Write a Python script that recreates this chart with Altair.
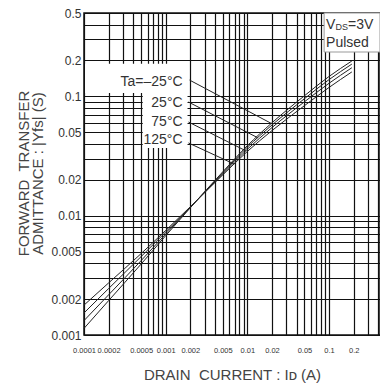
import altair as alt
import pandas as pd

# ---- data ----
drain_current = [0.0001, 0.0002, 0.0005, 0.001, 0.002, 0.005, 0.01, 0.02, 0.05, 0.1, 0.19]
yfs_m25 = [0.001136, 0.00194, 0.00393, 0.0068, 0.01164, 0.02335, 0.03864, 0.0601, 0.1013, 0.147, 0.198]
yfs_25 = [0.00132, 0.00217, 0.0042, 0.00702, 0.01176, 0.0229, 0.03754, 0.05756, 0.09574, 0.1383, 0.1865]
yfs_75 = [0.00153, 0.00245, 0.00454, 0.0073, 0.01176, 0.02244, 0.03606, 0.05476, 0.09016, 0.1289, 0.1739]
yfs_125 = [0.00178, 0.00273, 0.00481, 0.00752, 0.01188, 0.02199, 0.03459, 0.05167, 0.08366, 0.1189, 0.1604]
temp_labels = ["Ta=\u201325\u00b0C", "25\u00b0C", "75\u00b0C", "125\u00b0C"]

# label anchors and leader lines (data coordinates)
label_x = [0.00161, 0.00161, 0.00161, 0.00161]
label_y = [0.132, 0.0881, 0.0610, 0.0431]
leader_x0 = [0.00196, 0.00190, 0.00190, 0.00190]
leader_y0 = [0.137, 0.0897, 0.0610, 0.0407]
leader_x1 = [0.0196, 0.0134, 0.00956, 0.00689]
leader_y1 = [0.0594, 0.045, 0.035, 0.0271]

x_grid = [0.0001, 0.0002, 0.0003, 0.0004, 0.0005, 0.0006, 0.0007, 0.0008, 0.0009,
          0.001, 0.002, 0.003, 0.004, 0.005, 0.006, 0.007, 0.008, 0.009,
          0.01, 0.02, 0.03, 0.04, 0.05, 0.06, 0.07, 0.08, 0.09,
          0.1, 0.2, 0.3, 0.4]
y_grid = [0.001, 0.002, 0.003, 0.004, 0.005, 0.006, 0.007, 0.008, 0.009,
          0.01, 0.02, 0.03, 0.04, 0.05, 0.06, 0.07, 0.08, 0.09,
          0.1, 0.2, 0.3, 0.4, 0.5]
x_tick_labels = ["0.0001", "0.0002", "0.0005", "0.001", "0.002", "0.005",
                 "0.01", "0.02", "0.05", "0.1", "0.2"]
y_tick_labels = ["0.001", "0.002", "0.005", "0.01", "0.02", "0.05", "0.1", "0.2", "0.5"]

# white areas behind the annotation texts and the condition box
blank_x = [0.000103, 0.000524]
blank_x2 = [0.00185, 0.00185]
blank_y = [0.1068, 0.037]
blank_y2 = [0.188, 0.1068]
box_x, box_x2, box_y, box_y2 = [0.0869], [0.42], [0.2355], [0.5]

# ---- tables ----
rows = []
for name, vals in zip(temp_labels, [yfs_m25, yfs_25, yfs_75, yfs_125]):
    for xv, yv in zip(drain_current, vals):
        rows.append({"x": xv, "y": yv, "T": name})
curves = pd.DataFrame(rows)
labels = pd.DataFrame({"x": label_x, "y": label_y, "t": temp_labels})
leaders = pd.DataFrame({"x": leader_x0, "y": leader_y0, "x2": leader_x1, "y2": leader_y1})
blanks = pd.DataFrame({"x": blank_x, "x2": blank_x2, "y": blank_y, "y2": blank_y2})
box = pd.DataFrame({"x": box_x, "x2": box_x2, "y": box_y, "y2": box_y2})
cond = pd.DataFrame({"x": [0.0919], "y": [0.396], "y_p": [0.2805]})

def quoted(lst):
    return "[" + ",".join("'" + s + "'" for s in lst) + "]"

NARROW = "'Liberation Sans Narrow', 'Arial Narrow', 'Liberation Sans', sans-serif"
SANS = "'Liberation Sans', Arial, sans-serif"

X = alt.X("x:Q",
          scale=alt.Scale(type="log", domain=[0.0001, 0.42], nice=False, zero=False),
          axis=alt.Axis(values=x_grid, grid=True, gridColor="#111", gridWidth=1.2,
                        ticks=False, domain=False, format="~g",
                        labelExpr="indexof(" + quoted(x_tick_labels) + ", datum.label) >= 0 ? datum.label : ''",
                        labelFont=NARROW, labelFontSize=7.5, labelColor="#333",
                        labelPadding=11, labelOverlap=False, labelFlush=False,
                        title="DRAIN\u00a0 CURRENT : I\u1d05 (A)", titleFont=SANS,
                        titleFontSize=15, titleFontWeight="normal", titleColor="#444",
                        titleY=44, titleBaseline="alphabetic"))
Y = alt.Y("y:Q",
          scale=alt.Scale(type="log", domain=[0.001, 0.5], nice=False, zero=False),
          axis=alt.Axis(values=y_grid, grid=True, gridColor="#111", gridWidth=1.2,
                        ticks=False, domain=False, format="~g",
                        labelExpr="indexof(" + quoted(y_tick_labels) + ", datum.label) >= 0 ? datum.label : ''",
                        labelFont=NARROW, labelFontSize=12, labelColor="#333",
                        labelPadding=3, labelOverlap=False, labelFlush=False,
                        title=["FORWARD\u00a0 TRANSFER", "ADMITTANCE : |Yfs| (S)"],
                        titleFont=SANS, titleFontSize=15, titleFontWeight="normal",
                        titleColor="#444", titleX=-68, titleY=160, titleAngle=-90,
                        titleBaseline="top", titleAlign="center", titleLineHeight=14))

blank_layer = alt.Chart(blanks).mark_rect(fill="white").encode(x=X, x2="x2", y=Y, y2="y2")
curve_layer = alt.Chart(curves).mark_line(color="#222", strokeWidth=1, interpolate="monotone").encode(
    x=X, y=Y, detail="T:N")
leader_layer = alt.Chart(leaders).mark_rule(color="#222", strokeWidth=1).encode(x=X, y=Y, x2="x2", y2="y2")
label_layer = alt.Chart(labels).mark_text(align="right", baseline="middle", font=SANS,
                                          fontSize=14, color="#333").encode(x=X, y=Y, text="t:N")
box_layer = alt.Chart(box).mark_rect(fill="white", stroke="#999", strokeWidth=1).encode(x=X, x2="x2", y=Y, y2="y2")
v_layer = alt.Chart(cond).mark_text(align="left", baseline="middle", font=SANS,
                                    fontSize=14, color="#333", text="V").encode(x=X, y=Y)
ds_layer = alt.Chart(cond).mark_text(align="left", baseline="middle", font=SANS,
                                     fontSize=9, color="#333", text="DS", dx=9.5, dy=2).encode(x=X, y=Y)
eq_layer = alt.Chart(cond).mark_text(align="left", baseline="middle", font=SANS,
                                     fontSize=14, color="#333", text="=3V", dx=22).encode(x=X, y=Y)
pulsed_layer = alt.Chart(cond).mark_text(align="left", baseline="middle", font=SANS,
                                         fontSize=14, color="#333", text="Pulsed").encode(
    x=X, y=alt.Y("y_p:Q", scale=alt.Scale(type="log", domain=[0.001, 0.5], nice=False)))

chart = alt.layer(blank_layer, curve_layer, leader_layer, label_layer, box_layer,
                  v_layer, ds_layer, eq_layer, pulsed_layer).properties(
    width=296, height=322,
    autosize=alt.AutoSizeParams(type="none"),
    padding={"left": 76, "top": 5, "right": 0, "bottom": 49},
    background="white",
).configure_view(stroke="#111", strokeWidth=1.5)

chart.save("out.html", embed_options={"renderer": "svg", "actions": False})
